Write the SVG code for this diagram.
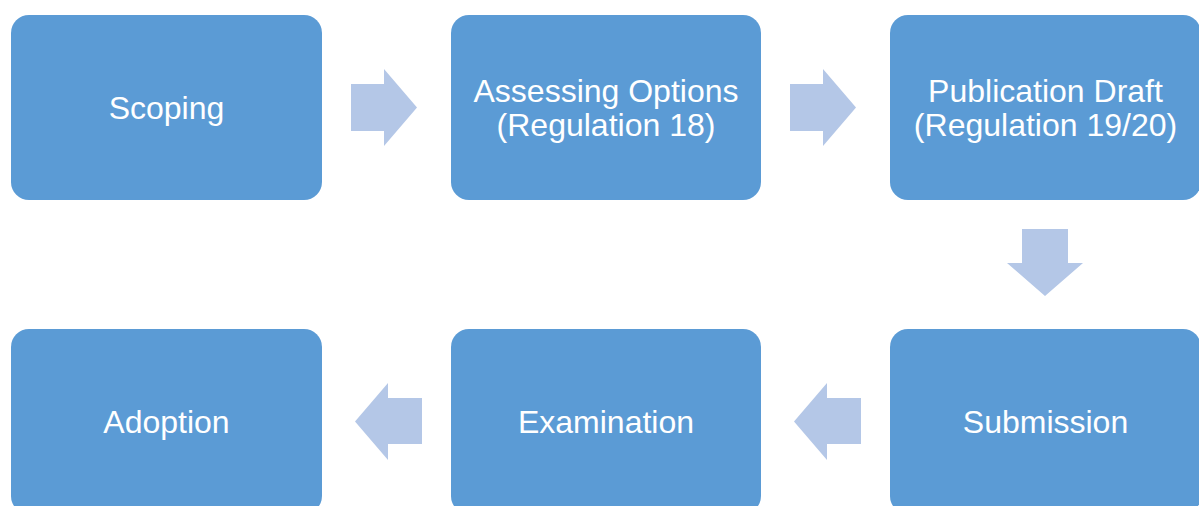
<svg xmlns="http://www.w3.org/2000/svg" width="1199" height="506" viewBox="0 0 1199 506">
<style>
.box{fill:#5B9BD5}
.arr{fill:#B4C7E7}
text{font-family:"Liberation Sans",Arial,sans-serif;font-size:32px;fill:#fff;text-anchor:middle;dominant-baseline:central}
</style>
<rect width="1199" height="506" fill="#fff"/>
<g id="connectors">
<polygon class="arr" points="351,84 384,84 384,69 417,107.5 384,146 384,131 351,131"/>
<polygon class="arr" points="790,84 823,84 823,69 856,107.5 823,146 823,131 790,131"/>
<polygon class="arr" points="1022,229 1068,229 1068,263 1083,263 1045,296 1007,263 1022,263"/>
<polygon class="arr" points="861,398 827,398 827,383 794,421.5 827,460 827,444 861,444"/>
<polygon class="arr" points="422,398 388,398 388,383 355,421.5 388,460 388,444 422,444"/>
</g>
<g id="scoping"><rect class="box" x="11" y="15" width="311" height="185" rx="18"/><text x="166.5" y="107.5">Scoping</text></g>
<g id="assessing"><rect class="box" x="451" y="15" width="310" height="185" rx="18"/><text x="606" y="91">Assessing Options</text><text x="606" y="125">(Regulation 18)</text></g>
<g id="publication"><rect class="box" x="890" y="15" width="311" height="185" rx="18"/><text x="1045.5" y="91">Publication Draft</text><text x="1045.5" y="125">(Regulation 19/20)</text></g>
<g id="submission"><rect class="box" x="890" y="329" width="311" height="185" rx="18"/><text x="1045.5" y="421.5">Submission</text></g>
<g id="examination"><rect class="box" x="451" y="329" width="310" height="185" rx="18"/><text x="606" y="421.5">Examination</text></g>
<g id="adoption"><rect class="box" x="11" y="329" width="311" height="185" rx="18"/><text x="166.5" y="421.5">Adoption</text></g>
</svg>
